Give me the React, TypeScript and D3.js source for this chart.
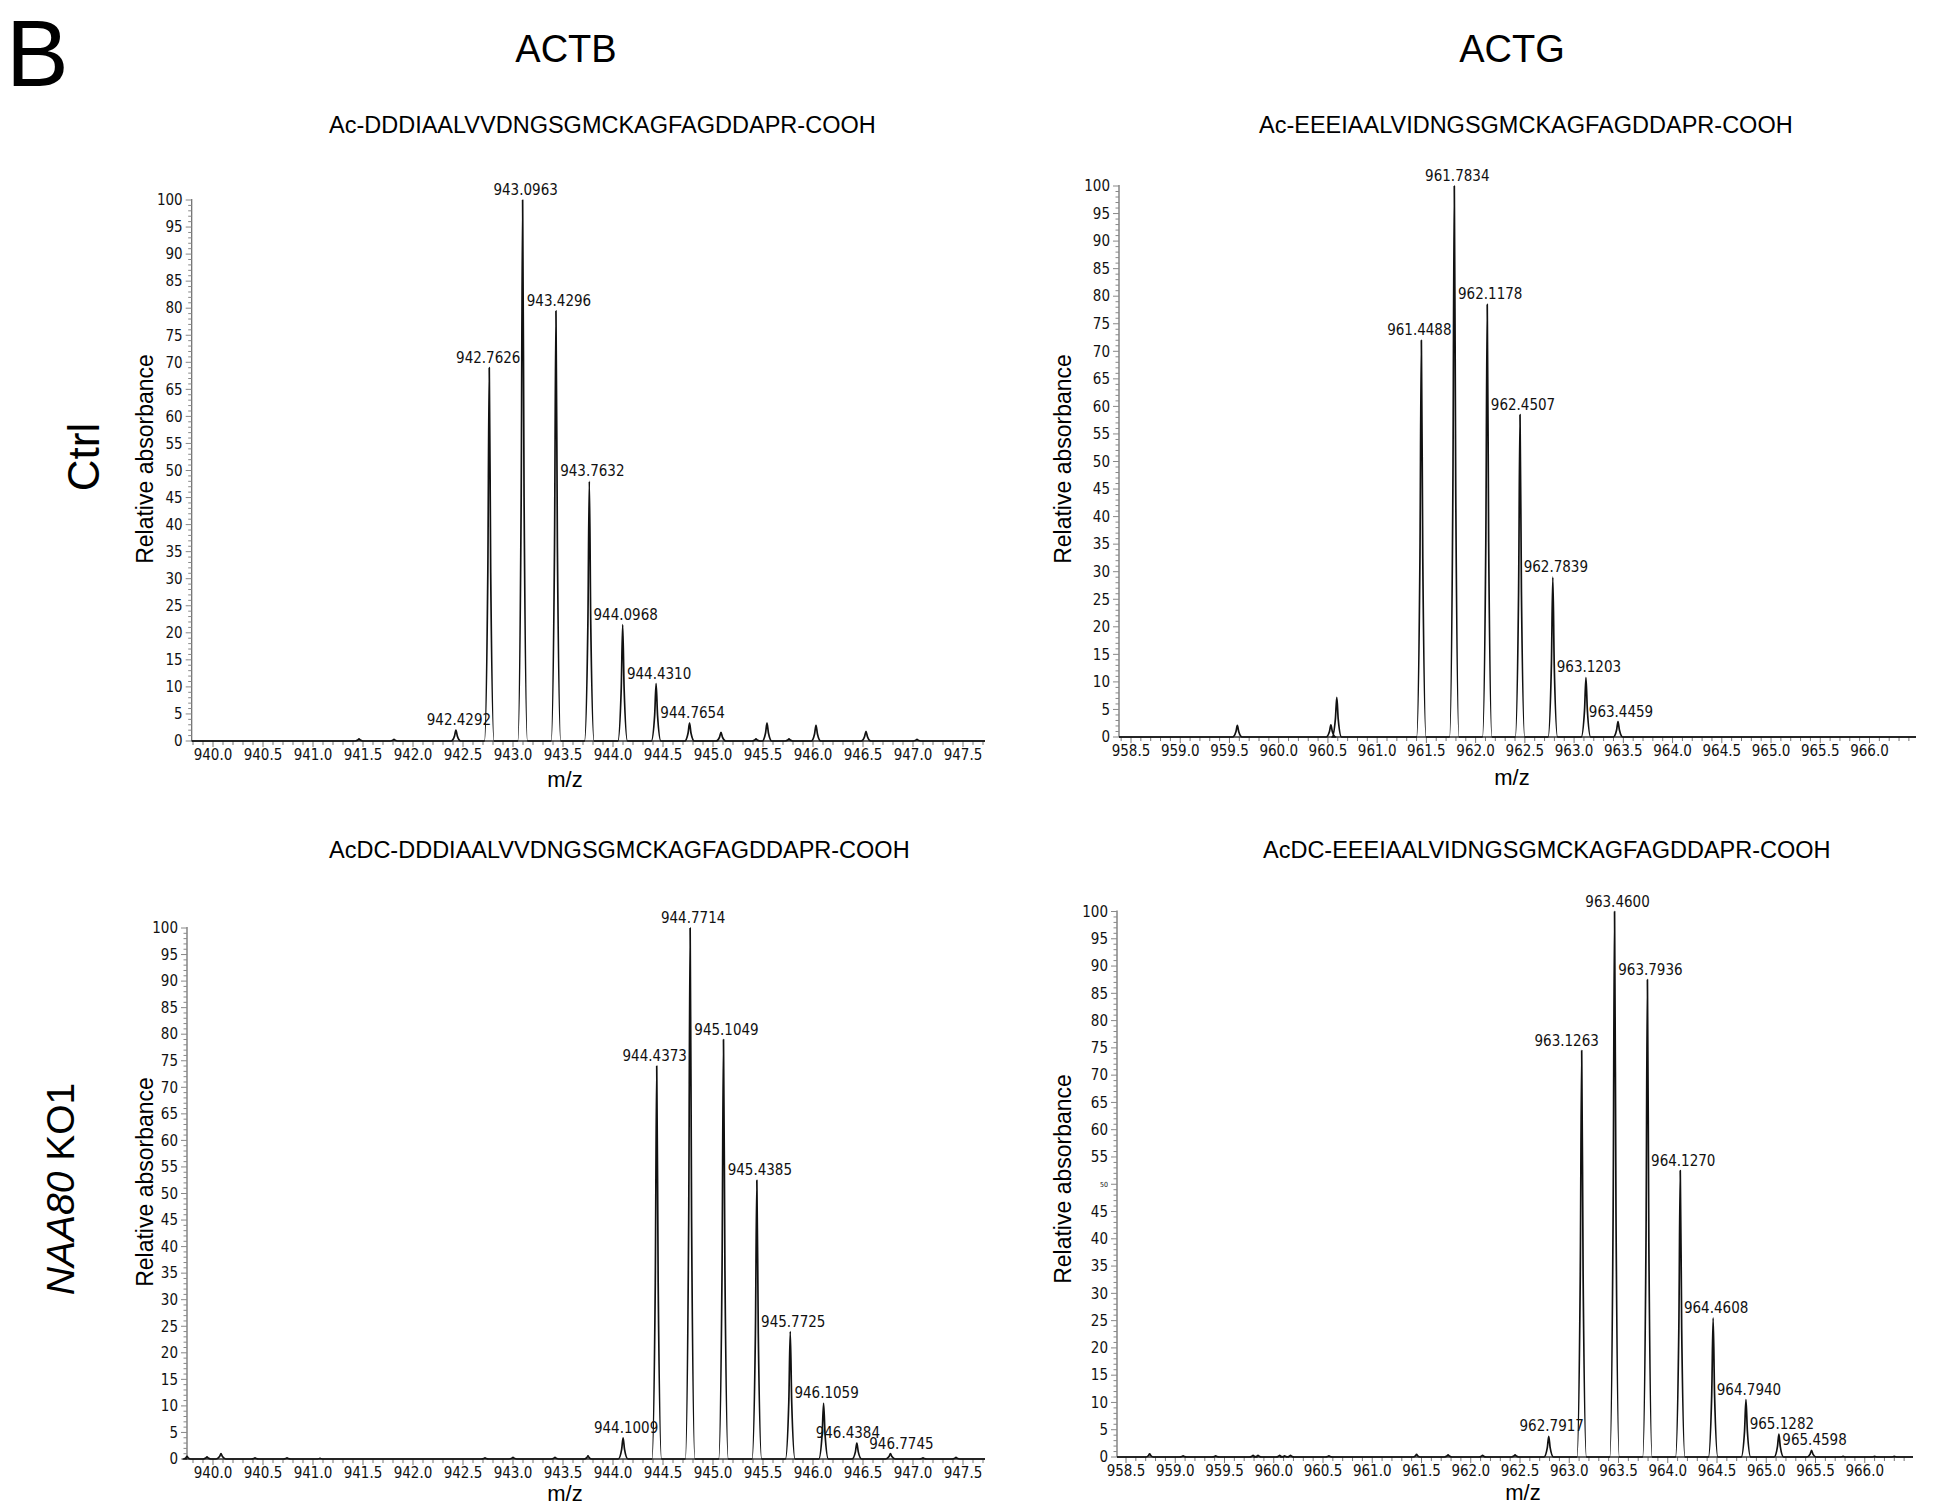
import * as d3 from "d3";

const W = 1938;
const H = 1505;

// ACTB, control: labelled isotope peaks
const actbCtrlMz = [942.4292, 942.7626, 943.0963, 943.4296, 943.7632, 944.0968, 944.431, 944.7654];
const actbCtrlInt = [2, 69, 100, 79.5, 48, 21.5, 10.6, 3.3];
const actbCtrlMinorMz = [941.46, 941.81, 945.08, 945.43, 945.54, 945.76, 946.03, 946.53, 947.04];
const actbCtrlMinorInt = [0.4, 0.3, 1.6, 0.4, 3.3, 0.4, 2.9, 1.8, 0.3];

// ACTG, control
const actgCtrlMz = [961.4488, 961.7834, 962.1178, 962.4507, 962.7839, 963.1203, 963.4459];
const actgCtrlInt = [72, 100, 78.5, 58.5, 29, 10.8, 2.8];
const actgCtrlMinorMz = [959.58, 960.53, 960.59];
const actgCtrlMinorInt = [2.1, 2.2, 7.2];

// ACTB, NAA80 KO1
const actbKoMz = [944.1009, 944.4373, 944.7714, 945.1049, 945.4385, 945.7725, 946.1059, 946.4384, 946.7745];
const actbKoInt = [4, 74, 100, 79, 52.5, 24, 10.5, 3, 1];
const actbKoMinorMz = [939.74, 939.94, 940.08, 940.42, 940.74, 941.07, 942.72, 943.0, 943.42, 943.75, 947.1, 947.43];
const actbKoMinorInt = [0.5, 0.4, 1.0, 0.2, 0.2, 0.1, 0.2, 0.3, 0.3, 0.6, 0.2, 0.3];

// ACTG, NAA80 KO1
const actgKoMz = [962.7917, 963.1263, 963.46, 963.7936, 964.127, 964.4608, 964.794, 965.1282, 965.4598];
const actgKoInt = [3.8, 74.5, 100, 87.5, 52.5, 25.5, 10.5, 4.2, 1.2];
const actgKoMinorMz = [958.74, 959.08, 959.41, 959.79, 959.84, 960.06, 960.11, 960.17, 960.56, 961.45, 961.77, 962.12, 962.45, 965.78, 966.1, 966.3];
const actgKoMinorInt = [0.6, 0.2, 0.2, 0.3, 0.3, 0.3, 0.2, 0.3, 0.2, 0.5, 0.4, 0.3, 0.4, 0.1, 0.1, 0.1];

const actbTicks = ["940.0", "940.5", "941.0", "941.5", "942.0", "942.5", "943.0", "943.5", "944.0", "944.5", "945.0", "945.5", "946.0", "946.5", "947.0", "947.5"];
const actgTicks = ["958.5", "959.0", "959.5", "960.0", "960.5", "961.0", "961.5", "962.0", "962.5", "963.0", "963.5", "964.0", "964.5", "965.0", "965.5", "966.0"];
const yTicks = [0, 5, 10, 15, 20, 25, 30, 35, 40, 45, 50, 55, 60, 65, 70, 75, 80, 85, 90, 95, 100];

const columnTitles = ["ACTB", "ACTG"];
const peptides = [
  "Ac-DDDIAALVVDNGSGMCKAGFAGDDAPR-COOH",
  "Ac-EEEIAALVIDNGSGMCKAGFAGDDAPR-COOH",
  "AcDC-DDDIAALVVDNGSGMCKAGFAGDDAPR-COOH",
  "AcDC-EEEIAALVIDNGSGMCKAGFAGDDAPR-COOH",
];

// labels the instrument software shifted sideways to keep them clear
const labelNudge: Record<string, number> = {
  "942.7626": -4,
  "961.4488": -5,
  "963.1263": -18,
  "944.4373": -5,
  "946.4384": -12,
  "946.7745": 8,
};

const NARROW = "'Liberation Sans Narrow', 'Arial Narrow', 'DejaVu Sans Condensed', sans-serif";
const SANS = "'Liberation Sans', Arial, Helvetica, sans-serif";

type PanelProps = {
  mz: number[];
  int: number[];
  minorMz: number[];
  minorInt: number[];
  ticks: string[];
  xRange: [number, number]; // pixel positions of first and last tick label
  axisX: [number, number];
  yRange: [number, number]; // pixel of 0 and 100
  title: string;
  titleX: number;
  titleY: number;
  yLabelX: number;
  yLabelY: number;
  xLabelX: number;
  xLabelY: number;
  smallFifty?: boolean;
};

function Spectrum(p: PanelProps) {
  const t0 = +p.ticks[0];
  const t1 = +p.ticks[p.ticks.length - 1];
  const x = d3.scaleLinear().domain([t0, t1]).range(p.xRange);
  const y = d3.scaleLinear().domain([0, 100]).range(p.yRange);
  const mzLeft = x.invert(p.axisX[0]);
  const mzRight = x.invert(p.axisX[1]);

  const peaks = [
    ...p.mz.map((m, i) => ({ m, h: p.int[i] })),
    ...p.minorMz.map((m, i) => ({ m, h: p.minorInt[i] })),
  ].sort((a, b) => a.m - b.m);

  const hw = 0.048;
  const pts: [number, number][] = [[mzLeft, 0]];
  peaks.forEach((pk) => {
    const w = pk.h < 1 ? hw * 0.8 : hw;
    pts.push([pk.m - w, 0], [pk.m - w * 0.3, pk.h * 0.45], [pk.m, pk.h], [pk.m + w * 0.3, pk.h * 0.45], [pk.m + w, 0]);
  });
  pts.push([mzRight, 0]);

  const line = d3
    .line<[number, number]>()
    .x((d) => x(d[0]))
    .y((d) => y(d[1]))
    .curve(d3.curveMonotoneX);

  const yMinor = d3.range(0, 101, 1);
  const xMinor = d3.range(Math.ceil(mzLeft * 10) / 10, mzRight, 0.1);

  return (
    <g>
      <text x={p.titleX} y={p.titleY} textAnchor="start" fontFamily={SANS} fontSize={23.5}>
        {p.title}
      </text>
      {/* y axis */}
      <line x1={p.axisX[0]} x2={p.axisX[0]} y1={y(0)} y2={y(100) - 1} stroke="#666" strokeWidth={1.2} />
      {yMinor.map((v) => (
        <line
          key={"ym" + v}
          x1={p.axisX[0] - (v % 5 === 0 ? 6 : 3.5)}
          x2={p.axisX[0]}
          y1={y(v)}
          y2={y(v)}
          stroke="#888"
          strokeWidth={1}
        />
      ))}
      {yTicks.map((v) => (
        <text
          key={"yt" + v}
          x={p.axisX[0] - 9}
          y={y(v)}
          dy="0.35em"
          textAnchor="end"
          fontFamily={NARROW}
          fontSize={p.smallFifty && v === 50 ? 7 : 15}
          fill="#111"
        >
          {v}
        </text>
      ))}
      {/* x axis */}
      {xMinor.map((v) => (
        <line
          key={"xm" + v.toFixed(1)}
          x1={x(v)}
          x2={x(v)}
          y1={y(0)}
          y2={y(0) + (Math.abs(v * 2 - Math.round(v * 2)) < 1e-6 ? 6 : 4)}
          stroke="#777"
          strokeWidth={1}
        />
      ))}
      {p.ticks.map((t) => (
        <text key={"xt" + t} x={x(+t)} y={y(0) + 19} textAnchor="middle" fontFamily={NARROW} fontSize={15} fill="#111">
          {t}
        </text>
      ))}
      <line x1={p.axisX[0]} x2={p.axisX[1]} y1={y(0)} y2={y(0)} stroke="#333" strokeWidth={1.6} />
      {/* trace */}
      <path d={line(pts) ?? ""} fill="none" stroke="#111" strokeWidth={1.7} strokeLinejoin="round" />
      {p.mz.map((m, i) => {
        const lab = m.toFixed(4);
        return (
          <text
            key={"pl" + m}
            x={x(m) + 3 + (labelNudge[lab] ?? 0)}
            y={y(p.int[i]) - 5}
            textAnchor="middle"
            fontFamily={NARROW}
            fontSize={15}
            fill="#111"
          >
            {lab}
          </text>
        );
      })}
      <text
        transform={`translate(${p.yLabelX},${p.yLabelY}) rotate(-90)`}
        textAnchor="middle"
        fontFamily={SANS}
        fontSize={23}
      >
        Relative absorbance
      </text>
      <text x={p.xLabelX} y={p.xLabelY} textAnchor="middle" fontFamily={SANS} fontSize={22}>
        m/z
      </text>
    </g>
  );
}

export default function App() {
  return (
    <svg
      width={W}
      height={H}
      viewBox={`0 0 ${W} ${H}`}
      style={{ position: "absolute", left: 0, top: 0, background: "#fff" }}
    >
      <rect width={W} height={H} fill="#fff" />
      <text x={6} y={86} fontFamily={SANS} fontSize={94}>
        B
      </text>
      <text x={566} y={62} textAnchor="middle" fontFamily={SANS} fontSize={38}>
        {columnTitles[0]}
      </text>
      <text x={1512} y={62} textAnchor="middle" fontFamily={SANS} fontSize={38}>
        {columnTitles[1]}
      </text>
      <text transform="translate(99,457) rotate(-90)" textAnchor="middle" fontFamily={SANS} fontSize={44}>
        Ctrl
      </text>
      <text transform="translate(74,1189) rotate(-90)" textAnchor="middle" fontFamily={SANS} fontSize={39}>
        <tspan fontStyle="italic">NAA80</tspan> KO1
      </text>

      <Spectrum
        mz={actbCtrlMz}
        int={actbCtrlInt}
        minorMz={actbCtrlMinorMz}
        minorInt={actbCtrlMinorInt}
        ticks={actbTicks}
        xRange={[213, 963]}
        axisX={[191.7, 985]}
        yRange={[741, 200]}
        title={peptides[0]}
        titleX={329}
        titleY={133}
        yLabelX={153}
        yLabelY={459}
        xLabelX={565}
        xLabelY={787}
      />
      <Spectrum
        mz={actgCtrlMz}
        int={actgCtrlInt}
        minorMz={actgCtrlMinorMz}
        minorInt={actgCtrlMinorInt}
        ticks={actgTicks}
        xRange={[1131, 1869.5]}
        axisX={[1119, 1916]}
        yRange={[737, 186]}
        title={peptides[1]}
        titleX={1259}
        titleY={133}
        yLabelX={1071}
        yLabelY={459}
        xLabelX={1512}
        xLabelY={785}
      />
      <Spectrum
        mz={actbKoMz}
        int={actbKoInt}
        minorMz={actbKoMinorMz}
        minorInt={actbKoMinorInt}
        ticks={actbTicks}
        xRange={[213, 963]}
        axisX={[187, 985]}
        yRange={[1459, 928]}
        title={peptides[2]}
        titleX={329}
        titleY={858}
        yLabelX={153}
        yLabelY={1182}
        xLabelX={565}
        xLabelY={1501}
      />
      <Spectrum
        mz={actgKoMz}
        int={actgKoInt}
        minorMz={actgKoMinorMz}
        minorInt={actgKoMinorInt}
        ticks={actgTicks}
        xRange={[1126, 1864.75]}
        axisX={[1117, 1913]}
        yRange={[1457, 911.5]}
        title={peptides[3]}
        titleX={1263}
        titleY={858}
        yLabelX={1071}
        yLabelY={1179}
        xLabelX={1523}
        xLabelY={1500}
        smallFifty
      />
    </svg>
  );
}
